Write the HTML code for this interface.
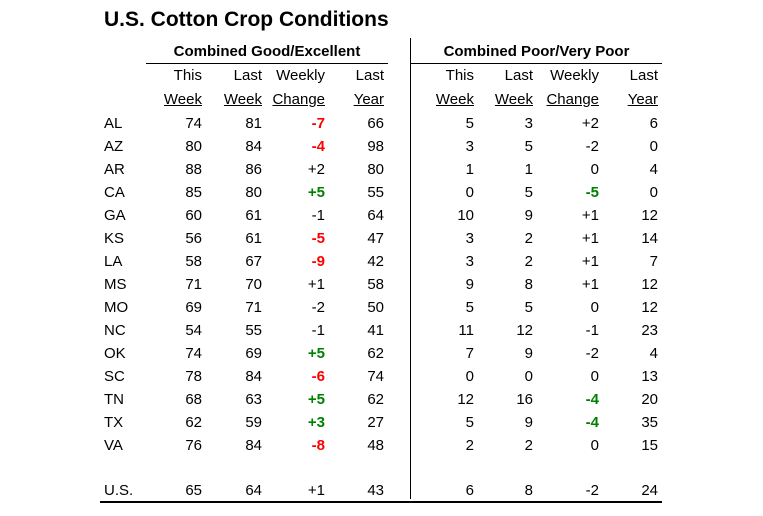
<!DOCTYPE html>
<html><head><meta charset="utf-8"><style>
body{margin:0;width:763px;height:516px;background:#fff;position:relative;overflow:hidden;font-family:"Liberation Sans",Arial,sans-serif;color:#000}
.t{position:absolute;font-size:15px;line-height:18px;white-space:nowrap}
.r{text-align:right;width:80px}
.u{text-decoration:underline}
.red{color:#f00;font-weight:bold}
.grn{color:#008000;font-weight:bold}
.row{position:absolute;left:0;width:763px;height:18px}
.row span{position:absolute;font-size:15px;line-height:18px;text-align:right;width:70px;white-space:nowrap}
.s{text-align:left!important;left:104px}
.c1{left:132px}.c2{left:192px}.c3{left:255px}.c4{left:314px}
.c5{left:404px}.c6{left:463px}.c7{left:529px}.c8{left:588px}
.ln{position:absolute;background:#000}
</style></head><body>
<div class="t" style="left:104px;top:8px;font-size:21px;line-height:24px;font-weight:bold">U.S. Cotton Crop Conditions</div>
<div class="t" style="left:146px;width:242px;text-align:center;top:43px;font-weight:bold">Combined Good/Excellent</div>
<div class="t" style="left:411px;width:251px;text-align:center;top:43px;font-weight:bold">Combined Poor/Very Poor</div>
<div class="ln" style="left:146px;top:63px;width:242px;height:1px"></div>
<div class="ln" style="left:411px;top:63px;width:251px;height:1px"></div>
<div class="ln" style="left:410px;top:38px;width:1px;height:461px"></div>
<div class="ln" style="left:100px;top:501px;width:562px;height:2px"></div>

<div class="row" style="top:67px"><span class="c1">This</span><span class="c2">Last</span><span class="c3">Weekly</span><span class="c4">Last</span><span class="c5">This</span><span class="c6">Last</span><span class="c7">Weekly</span><span class="c8">Last</span></div>
<div class="row" style="top:91px"><span class="c1 u">Week</span><span class="c2 u">Week</span><span class="c3 u">Change</span><span class="c4 u">Year</span><span class="c5 u">Week</span><span class="c6 u">Week</span><span class="c7 u">Change</span><span class="c8 u">Year</span></div>

<div class="row" style="top:115px"><span class="s">AL</span><span class="c1">74</span><span class="c2">81</span><span class="c3 red">-7</span><span class="c4">66</span><span class="c5">5</span><span class="c6">3</span><span class="c7">+2</span><span class="c8">6</span></div>
<div class="row" style="top:138px"><span class="s">AZ</span><span class="c1">80</span><span class="c2">84</span><span class="c3 red">-4</span><span class="c4">98</span><span class="c5">3</span><span class="c6">5</span><span class="c7">-2</span><span class="c8">0</span></div>
<div class="row" style="top:161px"><span class="s">AR</span><span class="c1">88</span><span class="c2">86</span><span class="c3">+2</span><span class="c4">80</span><span class="c5">1</span><span class="c6">1</span><span class="c7">0</span><span class="c8">4</span></div>
<div class="row" style="top:184px"><span class="s">CA</span><span class="c1">85</span><span class="c2">80</span><span class="c3 grn">+5</span><span class="c4">55</span><span class="c5">0</span><span class="c6">5</span><span class="c7 grn">-5</span><span class="c8">0</span></div>
<div class="row" style="top:207px"><span class="s">GA</span><span class="c1">60</span><span class="c2">61</span><span class="c3">-1</span><span class="c4">64</span><span class="c5">10</span><span class="c6">9</span><span class="c7">+1</span><span class="c8">12</span></div>
<div class="row" style="top:230px"><span class="s">KS</span><span class="c1">56</span><span class="c2">61</span><span class="c3 red">-5</span><span class="c4">47</span><span class="c5">3</span><span class="c6">2</span><span class="c7">+1</span><span class="c8">14</span></div>
<div class="row" style="top:253px"><span class="s">LA</span><span class="c1">58</span><span class="c2">67</span><span class="c3 red">-9</span><span class="c4">42</span><span class="c5">3</span><span class="c6">2</span><span class="c7">+1</span><span class="c8">7</span></div>
<div class="row" style="top:276px"><span class="s">MS</span><span class="c1">71</span><span class="c2">70</span><span class="c3">+1</span><span class="c4">58</span><span class="c5">9</span><span class="c6">8</span><span class="c7">+1</span><span class="c8">12</span></div>
<div class="row" style="top:299px"><span class="s">MO</span><span class="c1">69</span><span class="c2">71</span><span class="c3">-2</span><span class="c4">50</span><span class="c5">5</span><span class="c6">5</span><span class="c7">0</span><span class="c8">12</span></div>
<div class="row" style="top:322px"><span class="s">NC</span><span class="c1">54</span><span class="c2">55</span><span class="c3">-1</span><span class="c4">41</span><span class="c5">11</span><span class="c6">12</span><span class="c7">-1</span><span class="c8">23</span></div>
<div class="row" style="top:345px"><span class="s">OK</span><span class="c1">74</span><span class="c2">69</span><span class="c3 grn">+5</span><span class="c4">62</span><span class="c5">7</span><span class="c6">9</span><span class="c7">-2</span><span class="c8">4</span></div>
<div class="row" style="top:368px"><span class="s">SC</span><span class="c1">78</span><span class="c2">84</span><span class="c3 red">-6</span><span class="c4">74</span><span class="c5">0</span><span class="c6">0</span><span class="c7">0</span><span class="c8">13</span></div>
<div class="row" style="top:391px"><span class="s">TN</span><span class="c1">68</span><span class="c2">63</span><span class="c3 grn">+5</span><span class="c4">62</span><span class="c5">12</span><span class="c6">16</span><span class="c7 grn">-4</span><span class="c8">20</span></div>
<div class="row" style="top:414px"><span class="s">TX</span><span class="c1">62</span><span class="c2">59</span><span class="c3 grn">+3</span><span class="c4">27</span><span class="c5">5</span><span class="c6">9</span><span class="c7 grn">-4</span><span class="c8">35</span></div>
<div class="row" style="top:437px"><span class="s">VA</span><span class="c1">76</span><span class="c2">84</span><span class="c3 red">-8</span><span class="c4">48</span><span class="c5">2</span><span class="c6">2</span><span class="c7">0</span><span class="c8">15</span></div>
<div class="row" style="top:482px"><span class="s">U.S.</span><span class="c1">65</span><span class="c2">64</span><span class="c3">+1</span><span class="c4">43</span><span class="c5">6</span><span class="c6">8</span><span class="c7">-2</span><span class="c8">24</span></div>
</body></html>
